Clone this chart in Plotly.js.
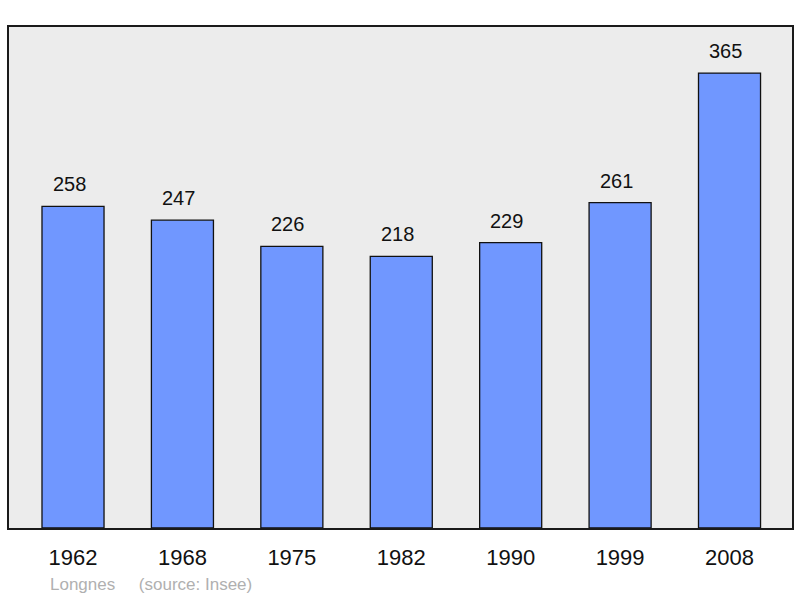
<!DOCTYPE html>
<html><head><meta charset="utf-8">
<script src="https://cdn.plot.ly/plotly-3.0.1.min.js"></script>
<style>html,body{margin:0;padding:0;background:#fff}</style>
</head><body>
<div id="chart" style="width:800px;height:598px"></div>
<script>
const years = ['1962','1968','1975','1982','1990','1999','2008'];
const population = [258, 247, 226, 218, 229, 261, 365];
const caption = 'Longnes\u00a0\u00a0\u00a0\u00a0 (source: Insee)';

const xs = years.map((_, i) => i);
const trace = {
  type: 'bar', x: xs, y: population, width: 0.567,
  marker: {color: '#7097ff', line: {color: '#111', width: 1.3}},
  hoverinfo: 'skip'
};
const annotations = population.map((v, i) => ({
  x: i, y: v, xref: 'x', yref: 'y', text: String(v), showarrow: false,
  yanchor: 'bottom', yshift: 9, xshift: -4, font: {family: 'Liberation Sans, Arial, sans-serif', size: 20, color: '#111'}
}));
annotations.push({
  xref: 'paper', yref: 'paper', x: 0.0498, y: -0.1118, xanchor: 'left', yanchor: 'middle',
  text: caption, showarrow: false,
  font: {family: 'Liberation Sans, Arial, sans-serif', size: 17, color: '#b0b0b0'}
});
const layout = {
  width: 800, height: 598,
  margin: {l: 9, r: 8, t: 27, b: 70},
  paper_bgcolor: '#ffffff', plot_bgcolor: '#ececec',
  showlegend: false,
  xaxis: {
    range: [-0.585, 6.571], tickvals: xs, ticktext: years,
    showgrid: false, zeroline: false, showline: true, mirror: true,
    linecolor: '#1a1a1a', linewidth: 2, ticks: 'outside', ticklen: 9, tickcolor: 'rgba(0,0,0,0)',
    tickfont: {family: 'Liberation Sans, Arial, sans-serif', size: 22, color: '#111'},
    fixedrange: true
  },
  yaxis: {
    range: [0, 402], showgrid: false, zeroline: false, showticklabels: false,
    showline: true, mirror: true, linecolor: '#1a1a1a', linewidth: 2, fixedrange: true
  },
  annotations: annotations
};
Plotly.newPlot('chart', [trace], layout, {displayModeBar: false, staticPlot: true});
</script>
</body></html>
